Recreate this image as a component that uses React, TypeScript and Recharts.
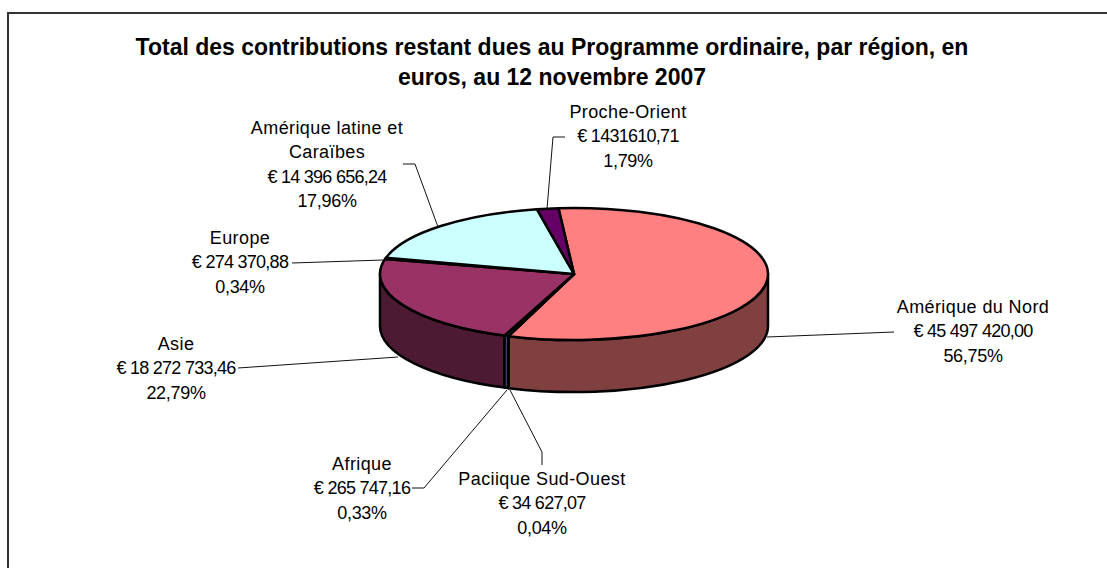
import { Pie, PieChart } from "recharts";

const regions = [
  "Amérique du Nord",
  "Paciique Sud-Ouest",
  "Afrique",
  "Asie",
  "Europe",
  "Amérique latine et|Caraïbes",
  "Proche-Orient",
];
const amounts = [45497420.0, 34627.07, 265747.16, 18272733.46, 274370.88, 14396656.24, 1431610.71];
const amountLabels = [
  "€ 45 497 420,00",
  "€ 34 627,07",
  "€ 265 747,16",
  "€ 18 272 733,46",
  "€ 274 370,88",
  "€ 14 396 656,24",
  "€ 1431610,71",
];
const percentLabels = ["56,75%", "0,04%", "0,33%", "22,79%", "0,34%", "17,96%", "1,79%"];
const topColors = ["#FF8080", "#0066CC", "#9999FF", "#993366", "#FFFFCC", "#CCFFFF", "#660066"];
const sideColors = ["#804040", "#003366", "#4D4D80", "#4D1A33", "#808066", "#668080", "#330033"];

// where each label sits and how its leader line runs
const labelCenters = [
  [973, 307],
  [542, 479],
  [362, 464],
  [176, 344],
  [240, 238],
  [327, 128],
  [628, 112],
];
const leaderLines = [
  "894,332 767,337",
  "542,465 542,452 510,390",
  "412,488 424,488 507,390",
  "238,368 398,357",
  "292,263 383,260",
  "403,164 415,164 438,227",
  "565,137 553,137 547,209",
];

const WIDTH = 1107;
const HEIGHT = 568;
const CX = 574;
const CY = 274;
const RX = 194;
const RY = 66;
const DEPTH = 52;
const LINE_HEIGHT = 24.3;
const FONT = "'Liberation Sans', Arial, sans-serif";

const topData = regions.map((name, i) => ({ name, value: amounts[i], fill: topColors[i] }));
const sideData = regions.map((name, i) => ({ name, value: amounts[i], fill: sideColors[i] }));

const point = (angle: number, dy = 0) => {
  const rad = (angle * Math.PI) / 180;
  return `${CX + RX * Math.cos(rad)},${CY + dy - RY * Math.sin(rad)}`;
};

// flat sector squashed into an ellipse, the angles come from the Pie
function TopSlice({ startAngle, endAngle, fill }: any) {
  const large = startAngle - endAngle > 180 ? 1 : 0;
  const d = `M${CX},${CY} L${point(startAngle)} A${RX},${RY} 0 ${large} 1 ${point(endAngle)} Z`;
  return <path d={d} fill={fill} stroke="#000" strokeWidth={2.5} strokeLinejoin="round" />;
}

// only the part of the rim in the front half of the ellipse shows
function SideSlice({ startAngle, endAngle, fill }: any) {
  const a = Math.min(startAngle, 0);
  const b = Math.max(endAngle, -180);
  if (a <= b) return null;
  const d =
    `M${point(a)} A${RX},${RY} 0 0 1 ${point(b)} ` +
    `L${point(b, DEPTH)} A${RX},${RY} 0 0 0 ${point(a, DEPTH)} Z`;
  return <path d={d} fill={fill} stroke="#000" strokeWidth={2.5} strokeLinejoin="round" />;
}

function SliceLabel({ index }: any) {
  const [x, y] = labelCenters[index];
  const names = regions[index].split("|");
  return (
    <g>
      <polyline points={leaderLines[index]} fill="none" stroke="#111" strokeWidth={1} />
      <text textAnchor="middle" fontFamily={FONT} fontSize={18} fill="#000">
        {names.map((line, i) => (
          <tspan key={i} x={x} y={y + 6 + i * LINE_HEIGHT} letterSpacing={0.4}>
            {line}
          </tspan>
        ))}
        <tspan x={x} y={y + 6 + names.length * LINE_HEIGHT} letterSpacing={-0.73}>
          {amountLabels[index]}
        </tspan>
        <tspan x={x} y={y + 6 + (names.length + 1) * LINE_HEIGHT} letterSpacing={-0.3}>
          {percentLabels[index]}
        </tspan>
      </text>
    </g>
  );
}

export default function App() {
  return (
    <div style={{ position: "absolute", left: 0, top: 0, width: WIDTH, height: HEIGHT, background: "#fff" }}>
      <div style={{ position: "absolute", left: 7, top: 12, right: 0, bottom: 0, borderTop: "2px solid #333", borderLeft: "2px solid #333" }} />
      <div
        style={{
          position: "absolute",
          left: 0,
          top: 32,
          width: 1104,
          textAlign: "center",
          fontFamily: FONT,
          fontWeight: 700,
          fontSize: 23,
          lineHeight: "30px",
        }}
      >
        Total des contributions restant dues au Programme ordinaire, par région, en
        <br />
        euros, au 12 novembre 2007
      </div>
      <div style={{ position: "absolute", left: 0, top: 0 }}>
        <PieChart width={WIDTH} height={HEIGHT} margin={{ top: 0, right: 0, bottom: 0, left: 0 }}>
          <Pie
            data={sideData}
            dataKey="value"
            nameKey="name"
            cx={CX}
            cy={CY}
            outerRadius={RX}
            startAngle={94.6}
            endAngle={-265.4}
            shape={SideSlice}
            isAnimationActive={false}
          />
          <Pie
            data={topData}
            dataKey="value"
            nameKey="name"
            cx={CX}
            cy={CY}
            outerRadius={RX}
            startAngle={94.6}
            endAngle={-265.4}
            shape={TopSlice}
            label={SliceLabel}
            labelLine={false}
            isAnimationActive={false}
          />
        </PieChart>
      </div>
    </div>
  );
}
